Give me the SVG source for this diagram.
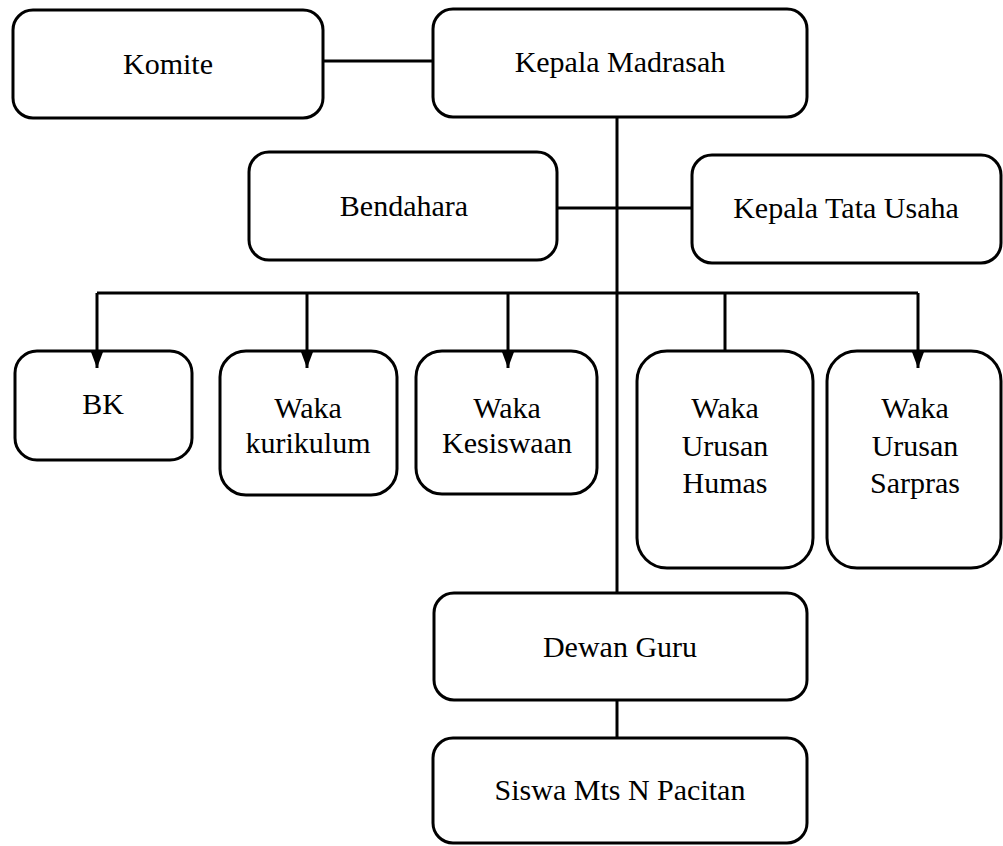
<svg xmlns="http://www.w3.org/2000/svg" width="1003" height="846" viewBox="0 0 1003 846">
<style>
.box{fill:#fff;stroke:#000;stroke-width:3}
.t{font-family:"Liberation Serif","Times New Roman",Tinos,"DejaVu Serif",serif;font-size:30px;fill:#000;text-anchor:middle}
.c{fill:none;stroke:#000;stroke-width:3}
</style>
<defs>
<marker id="ah" markerWidth="16" markerHeight="12" refX="16" refY="6" orient="auto" markerUnits="userSpaceOnUse" viewBox="0 0 16 12">
<path d="M0,0 L16,6 L0,12 Z" fill="#000"/>
</marker>
</defs>
<rect width="1003" height="846" fill="#fff"/>
<g id="node-komite"><rect class="box" x="13" y="10" width="310" height="108" rx="20"/><text class="t" x="168" y="74">Komite</text></g>
<g id="node-kepala"><rect class="box" x="433" y="9" width="374" height="108" rx="20"/><text class="t" x="620" y="72">Kepala Madrasah</text></g>
<g id="node-bendahara"><rect class="box" x="249" y="152" width="308" height="108" rx="20"/><text class="t" x="404" y="216">Bendahara</text></g>
<g id="node-ktu"><rect class="box" x="692" y="155" width="309" height="108" rx="20"/><text class="t" x="846" y="218">Kepala Tata Usaha</text></g>
<g id="node-bk"><rect class="box" x="15" y="351" width="177" height="109" rx="22"/><text class="t" x="103" y="414">BK</text></g>
<g id="node-kurikulum"><rect class="box" x="220" y="351" width="177" height="144" rx="26"/><text class="t" x="308" y="418">Waka</text><text class="t" x="308" y="453">kurikulum</text></g>
<g id="node-kesiswaan"><rect class="box" x="416" y="351" width="181" height="143" rx="26"/><text class="t" x="507" y="418">Waka</text><text class="t" x="507" y="453">Kesiswaan</text></g>
<g id="node-humas"><rect class="box" x="637" y="351" width="176" height="217" rx="30"/><text class="t" x="725" y="418">Waka</text><text class="t" x="725" y="456">Urusan</text><text class="t" x="725" y="493">Humas</text></g>
<g id="node-sarpras"><rect class="box" x="827" y="351" width="174" height="217" rx="30"/><text class="t" x="915" y="418">Waka</text><text class="t" x="915" y="456">Urusan</text><text class="t" x="915" y="493">Sarpras</text></g>
<g id="node-dewan"><rect class="box" x="434" y="593" width="373" height="107" rx="20"/><text class="t" x="620" y="657">Dewan Guru</text></g>
<g id="node-siswa"><rect class="box" x="433" y="738" width="374" height="105" rx="20"/><text class="t" x="620" y="800">Siswa Mts N Pacitan</text></g>
<g id="connectors">
<line class="c" x1="323" y1="61" x2="433" y2="61"/>
<line class="c" x1="617" y1="117" x2="617" y2="593"/>
<line class="c" x1="557" y1="208" x2="692" y2="208"/>
<line class="c" x1="97" y1="293" x2="918" y2="293"/>
<line class="c" x1="617" y1="700" x2="617" y2="738"/>
<line class="c" x1="725" y1="293" x2="725" y2="351"/>
<line class="c" x1="97" y1="293" x2="97" y2="368" marker-end="url(#ah)"/>
<line class="c" x1="307" y1="293" x2="307" y2="368" marker-end="url(#ah)"/>
<line class="c" x1="508" y1="293" x2="508" y2="368" marker-end="url(#ah)"/>
<line class="c" x1="918" y1="293" x2="918" y2="368" marker-end="url(#ah)"/>
</g>
</svg>
